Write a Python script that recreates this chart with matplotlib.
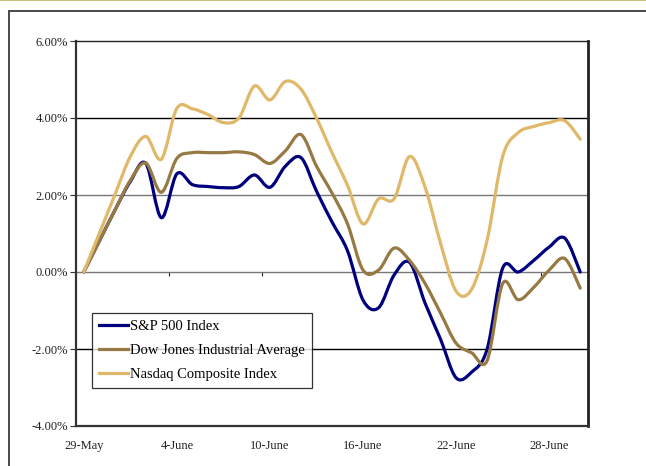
import numpy as np
import matplotlib
matplotlib.use("Agg")
import matplotlib.pyplot as plt
from matplotlib.path import Path
from matplotlib.patches import PathPatch, Rectangle
from matplotlib.lines import Line2D

# Daily % change since 29-May (one value per calendar day, 29-May .. 30-June)
days = np.arange(33)
sp500 = [0.0, 0.8, 1.6, 2.35, 2.82, 1.41, 2.55, 2.27, 2.22, 2.19, 2.22, 2.52, 2.20,
         2.75, 2.97, 2.10, 1.30, 0.55, -0.73, -0.93, -0.08, 0.25, -0.81, -1.75, -2.75,
         -2.60, -2.00, 0.10, 0.0, 0.30, 0.65, 0.88, 0.0]
dow = [0.0, 0.8, 1.6, 2.38, 2.83, 2.07, 2.95, 3.10, 3.10, 3.10, 3.12, 3.05, 2.82,
       3.15, 3.57, 2.75, 2.05, 1.25, 0.05, 0.05, 0.62, 0.30, -0.30, -1.07, -1.85,
       -2.10, -2.30, -0.30, -0.72, -0.40, 0.05, 0.35, -0.42]
nasdaq = [0.0, 1.0, 2.0, 3.0, 3.52, 2.93, 4.25, 4.24, 4.09, 3.88, 4.0, 4.83, 4.47,
          4.95, 4.75, 4.0, 3.1, 2.25, 1.25, 1.9, 1.9, 3.0, 2.2, 0.74, -0.5,
          -0.45, 0.83, 3.0, 3.62, 3.78, 3.88, 3.93, 3.45]

tick_labels = ["29-May", "4-June", "10-June", "16-June", "22-June", "28-June"]
label_days = [0, 6, 12, 18, 24, 30]
yticks = [-4, -2, 0, 2, 4, 6]

series = [
    ("S&P 500 Index", sp500, "#00007f"),
    ("Dow Jones Industrial Average", dow, "#977a43"),
    ("Nasdaq Composite Index", nasdaq, "#dfb869"),
]


def smooth_path(x, y):
    # Excel-style smoothed line: cubic bezier segments through every point
    pts = np.column_stack([x, y]).astype(float)
    verts = [pts[0]]
    codes = [Path.MOVETO]
    n = len(pts)
    for i in range(n - 1):
        p0 = pts[max(i - 1, 0)]
        p1 = pts[i]
        p2 = pts[i + 1]
        p3 = pts[min(i + 2, n - 1)]
        c1 = p1 + (p2 - p0) / 6.0
        c2 = p2 - (p3 - p1) / 6.0
        verts += [c1, c2, p2]
        codes += [Path.CURVE4] * 3
    return Path(verts, codes)


plt.rcParams['font.family'] = ['Liberation Serif', 'DejaVu Serif']

fig = plt.figure(figsize=(6.46, 4.66), dpi=100)

# outer chart frame and top rule
fig.add_artist(Line2D([0, 1], [0.999, 0.999], transform=fig.transFigure,
                      color="#c8c07a", lw=1.5))
fig.add_artist(Rectangle((9 / 646, -0.1), 1.2, 1 - 11 / 466 + 0.1,
                         transform=fig.transFigure, fill=False,
                         edgecolor="#3a3a3a", lw=1.3))

ax = fig.add_axes([76 / 646, 1 - 426 / 466, 512 / 646, 385 / 466])
ax.set_xlim(-0.5, 32.5)
ax.set_ylim(-4, 6)

for v in yticks[1:-1]:
    c = "#000000" if v in (4, -2) else "#777777"
    ax.axhline(v, color=c, lw=1, zorder=1)

handles = []
for name, vals, col in series:
    patch = PathPatch(smooth_path(days, vals), fill=False, edgecolor=col,
                      lw=2.3, capstyle="round", joinstyle="round", zorder=3)
    ax.add_patch(patch)
    handles.append(Line2D([], [], color=col, lw=2.3, label=name))

ax.set_yticks(yticks)
ax.set_yticklabels([f"{v:.2f}%" for v in yticks], fontsize=9, color="#222222")
ax.set_xticks(label_days)
ax.set_xticklabels(tick_labels, fontsize=9, color="#222222")
ax.tick_params(axis="x", length=0, pad=10)
ax.tick_params(axis="y", length=4, direction="out", pad=2, color="#333333")

# category axis crosses at 0%: tick marks sit on the zero line
zero_axis = ax.secondary_xaxis(0.4)
zero_axis.set_xticks(np.arange(5.5, 32, 6))
zero_axis.tick_params(axis="x", length=3, direction="out", color="#222222",
                      labelbottom=False)
zero_axis.spines["bottom"].set_visible(False)

for s in ["top", "right"]:
    ax.spines[s].set_color("#222222")
    ax.spines[s].set_linewidth(1)
ax.spines["right"].set_linewidth(2)
for s in ["left", "bottom"]:
    ax.spines[s].set_color("#333333")
    ax.spines[s].set_linewidth(1.6)

leg = fig.legend(handles=handles, loc="upper left",
                 bbox_to_anchor=(92 / 646, 1 - 313 / 466), fontsize=10.5,
                 frameon=True, fancybox=False, handlelength=2.0,
                 handletextpad=0.1, labelspacing=0.72, borderpad=0.5,
                 borderaxespad=0)
leg.get_frame().set_edgecolor("#000000")
leg.get_frame().set_linewidth(0.9)

fig.savefig("out.png", dpi=100)
